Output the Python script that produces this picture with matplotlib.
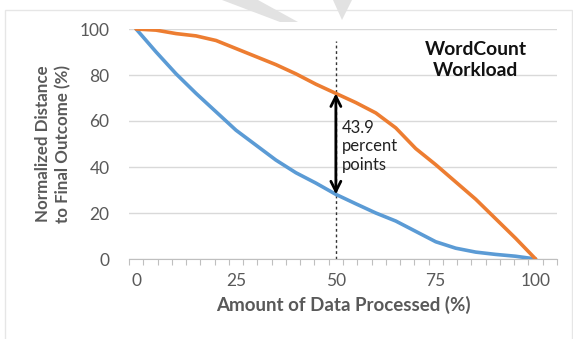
import numpy as np
import matplotlib
matplotlib.use("Agg")
import matplotlib.pyplot as plt
from matplotlib.patches import Polygon, Rectangle

# data (x = % of data processed)
x_pct = [0, 5, 10, 15, 20, 25, 30, 35, 40, 45, 50,
         55, 60, 65, 70, 75, 80, 85, 90, 95, 100]
blue_vals = [100, 90, 80.5, 72, 64, 56, 49.5, 43, 37.5, 33, 28.1,
             24, 20, 16.5, 12, 7.5, 4.7, 3, 2, 1.2, 0]
orange_vals = [100, 99.5, 98, 97, 95, 91.5, 88, 84.5, 80.5, 76, 72,
               68, 63.5, 57, 48, 41, 33.5, 26, 17.5, 9, 0]
x_ticks = [0, 25, 50, 75, 100]
y_ticks = [0, 20, 40, 60, 80, 100]
gap_label = "43.9\npercent\npoints"
mark_x = 50

plt.rcParams['font.family'] = ['Lato', 'DejaVu Sans']

fig = plt.figure(figsize=(5.73, 3.39), dpi=100)


# scale a text so its longest line is about as wide (px) as in the original
def fit_size(t, target, vertical=False):
    fig.canvas.draw()
    bb = t.get_window_extent()
    size = bb.height if vertical else bb.width
    t.set_fontsize(t.get_fontsize() * target / size)


# light chart frame and the faint grey shapes at the top
fig.patches.append(Rectangle((5/573, -0.01), 567/573, 1 - 10/339 + 0.01,
                             transform=fig.transFigure, fill=False,
                             edgecolor='#e6e6e6', lw=1))
fig.patches.append(Polygon([(222/573, 1), (258/573, 1), (298/573, 1 - 22/339), (280/573, 1 - 22/339)],
                           closed=True, transform=fig.transFigure,
                           facecolor='#e2e2e2', edgecolor='none'))
fig.patches.append(Polygon([(333/573, 1), (352/573, 1), (342/573, 1 - 20/339)],
                           closed=True, transform=fig.transFigure,
                           facecolor='#e2e2e2', edgecolor='none'))

ax = fig.add_axes([129/573, 1 - 259/339, 428/573, 230/339])

step = 100 / 28  # category width of the original axis
ax.set_xlim(-step / 2, 100 + 1.5 * step)
ax.set_ylim(0, 100)

ax.plot(x_pct, blue_vals, color='#5B9BD5', lw=2.6, solid_capstyle='round', zorder=3)
ax.plot(x_pct, orange_vals, color='#ED7D31', lw=2.6, solid_capstyle='round', zorder=3)

# gridlines
ax.set_yticks(y_ticks)
ax.yaxis.grid(True, color='#d9d9d9', lw=1)
ax.set_axisbelow(True)

ax.set_xticks(x_ticks)
ax.set_xticks(-step / 2 + step * np.arange(31), minor=True)
ax.tick_params(axis='x', which='major', length=0, pad=10, labelsize=12.5, labelcolor='#595959')
ax.tick_params(axis='x', which='minor', length=4, color='#bfbfbf', width=0.8)
ax.tick_params(axis='y', length=0, pad=14, labelsize=12.5, labelcolor='#595959')

for s in ['top', 'right', 'left']:
    ax.spines[s].set_visible(False)
ax.spines['bottom'].set_color('#bfbfbf')
ax.spines['bottom'].set_linewidth(0.8)

xl = ax.set_xlabel("Amount of Data Processed (%)", fontsize=13, fontweight='bold',
                   color='#595959', labelpad=5)
yl = ax.set_ylabel("Normalized Distance\nto Final Outcome (%)", fontsize=13, fontweight='bold',
                   color='#595959', labelpad=6, linespacing=1.3)

# dotted marker line at 50% and the gap arrow
ax.axvline(mark_x, ymin=0, ymax=95 / 100, color='#333333', lw=1, ls=(0, (2, 2)), zorder=2)
i = x_pct.index(mark_x)
ax.annotate("", xy=(mark_x, orange_vals[i]), xytext=(mark_x, blue_vals[i]),
            arrowprops=dict(arrowstyle='<->', lw=2, color='black',
                            mutation_scale=18, shrinkA=0, shrinkB=0), zorder=4)
gap = ax.text(mark_x + 1.4, 60.5, gap_label, fontsize=13, color='#222222',
              va='top', ha='left', linespacing=1.2)

title = ax.text(85, 86.5, "WordCount\nWorkload", fontsize=14, fontweight='bold',
                ha='center', va='center', color='#111111', linespacing=1.25)

fit_size(xl, 255)
fit_size(yl, 158, vertical=True)
fit_size(gap, 56)
fit_size(title, 103)

fig.savefig("out.png", dpi=100)
